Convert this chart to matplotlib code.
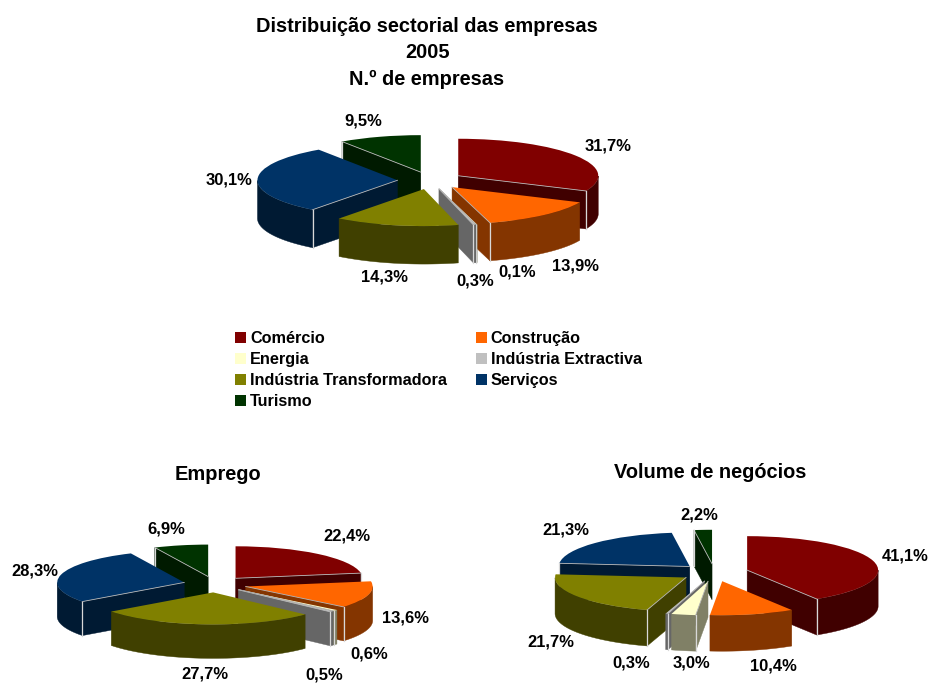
import numpy as np
import matplotlib
matplotlib.use("Agg")
import matplotlib.pyplot as plt
from matplotlib.patches import Patch, Polygon

plt.rcParams['font.family'] = ['Liberation Sans', 'DejaVu Sans']

W, H = 930, 684

categories = ['Comércio', 'Construção', 'Energia', 'Indústria Extractiva',
              'Indústria Transformadora', 'Serviços', 'Turismo']
empresas = [31.7, 13.9, 0.1, 0.3, 14.3, 30.1, 9.5]
emprego = [22.4, 13.6, 0.6, 0.5, 27.7, 28.3, 6.9]
volume = [41.1, 10.4, 3.0, 0.3, 21.7, 21.3, 2.2]

top_colors = ['#800000', '#FF6600', '#FFFFCC', '#C0C0C0', '#808000', '#003366', '#003300']
side_colors = ['#400000', '#843500', '#808066', '#666666', '#404000', '#001A33', '#001A00']

# layout: centre x, centre y, radius x, radius y, depth, explode (all pixels except explode)
layout_empresas = dict(cx=430.5, cy=180.5, rx=140, ry=37, depth=38, explode=0.236)
layout_emprego = dict(cx=215, cy=584.4, rx=127, ry=32, depth=34, explode=0.25)
layout_volume = dict(cx=714.4, cy=572.6, rx=131, ry=34, depth=36, explode=0.26)

labels_empresas = [(608, 146), (575, 266), (517, 272), (475, 281), (384, 277), (229, 180), (363, 121)]
labels_emprego = [(347, 536), (405, 618), (369, 654), (324, 675), (205, 674), (35, 571), (166, 529)]
labels_volume = [(905, 556), (773, 666), (691, 663), (631, 663), (551, 642), (566, 530), (699, 515)]

fig = plt.figure(figsize=(W / 100, H / 100), dpi=100, facecolor='white')


def draw_pie(values, cx, cy, rx, ry, depth, explode, label_xy):
    ax = fig.add_axes([0, 0, 1, 1], facecolor='none')
    wedges, _ = ax.pie(values, explode=[explode] * len(values), startangle=90,
                       counterclock=False, colors=top_colors,
                       wedgeprops=dict(linewidth=0))
    ax.set_aspect('auto')
    ax.set_xlim(-cx / rx, (W - cx) / rx)
    ax.set_ylim(-(H - cy) / ry, cy / ry)
    ax.axis('off')
    d = depth / ry
    order = np.argsort([w.center[1] for w in wedges])[::-1]
    for rank, i in enumerate(order):
        w = wedges[i]
        x0, y0 = w.center
        z = 2 + rank
        t = np.radians(np.linspace(w.theta1, w.theta2, 121))
        ax_, ay_ = x0 + np.cos(t), y0 + np.sin(t)
        front = np.sin(t) < 0
        # outer curved side, front part only
        if front.any():
            px, py = ax_[front], ay_[front]
            pts = np.r_[np.c_[px, py], np.c_[px[::-1], py[::-1] - d]]
            ax.add_patch(Polygon(pts, closed=True, fc=side_colors[i], ec=side_colors[i],
                                 lw=0.3, zorder=z))
        # flat cut faces, only those turned to the viewer
        for k, sign in ((0, 1), (-1, -1)):
            ex, ey = ax_[k], ay_[k]
            ny = -sign * np.cos(t[k])
            if ny < -0.01:
                pts = [(x0, y0), (ex, ey), (ex, ey - d), (x0, y0 - d)]
                ax.add_patch(Polygon(pts, closed=True, fc=side_colors[i], ec=side_colors[i],
                                     lw=0.3, zorder=z + 0.1))
                ax.plot([x0, ex], [y0, ey], color='#B8B8B8', lw=0.6, zorder=z + 0.6)
                ax.plot([ex, ex], [ey, ey - d], color='#D8D8D8', lw=0.9, zorder=z + 0.6)
        w.set_zorder(z + 0.5)
    for v, (lx, ly) in zip(values, label_xy):
        fig.text(lx / W, 1 - ly / H, f'{v:.1f}%'.replace('.', ','), ha='center', va='center',
                 fontsize=11.9, fontweight='bold', color='black')


draw_pie(empresas, label_xy=labels_empresas, **layout_empresas)
draw_pie(emprego, label_xy=labels_emprego, **layout_emprego)
draw_pie(volume, label_xy=labels_volume, **layout_volume)

for txt, y in (('Distribuição sectorial das empresas', 26), ('2005', 52), ('N.º de empresas', 79)):
    fig.text(427 / W, 1 - y / H, txt, ha='center', va='center', fontsize=14.4, fontweight='bold')
fig.text(218 / W, 1 - 474 / H, 'Emprego', ha='center', va='center', fontsize=14.4, fontweight='bold')
fig.text(710 / W, 1 - 472 / H, 'Volume de negócios', ha='center', va='center', fontsize=14.4, fontweight='bold')

# legend filled row by row: left column first in matplotlib's order
left = [0, 2, 4, 6]
right = [1, 3, 5]
handles = [Patch(fc=top_colors[i], ec='none', label=categories[i]) for i in left + right]
leg = fig.legend(handles=handles, ncol=2, frameon=False, loc='upper left',
                 bbox_to_anchor=(235 / W, 1 - 331 / H), borderaxespad=0, borderpad=0,
                 handlelength=0.68, handleheight=0.68, handletextpad=0.25,
                 columnspacing=1.75, labelspacing=0.37,
                 prop=dict(size=11.7, weight='bold'))

fig.savefig('out.png', dpi=100, facecolor='white')
